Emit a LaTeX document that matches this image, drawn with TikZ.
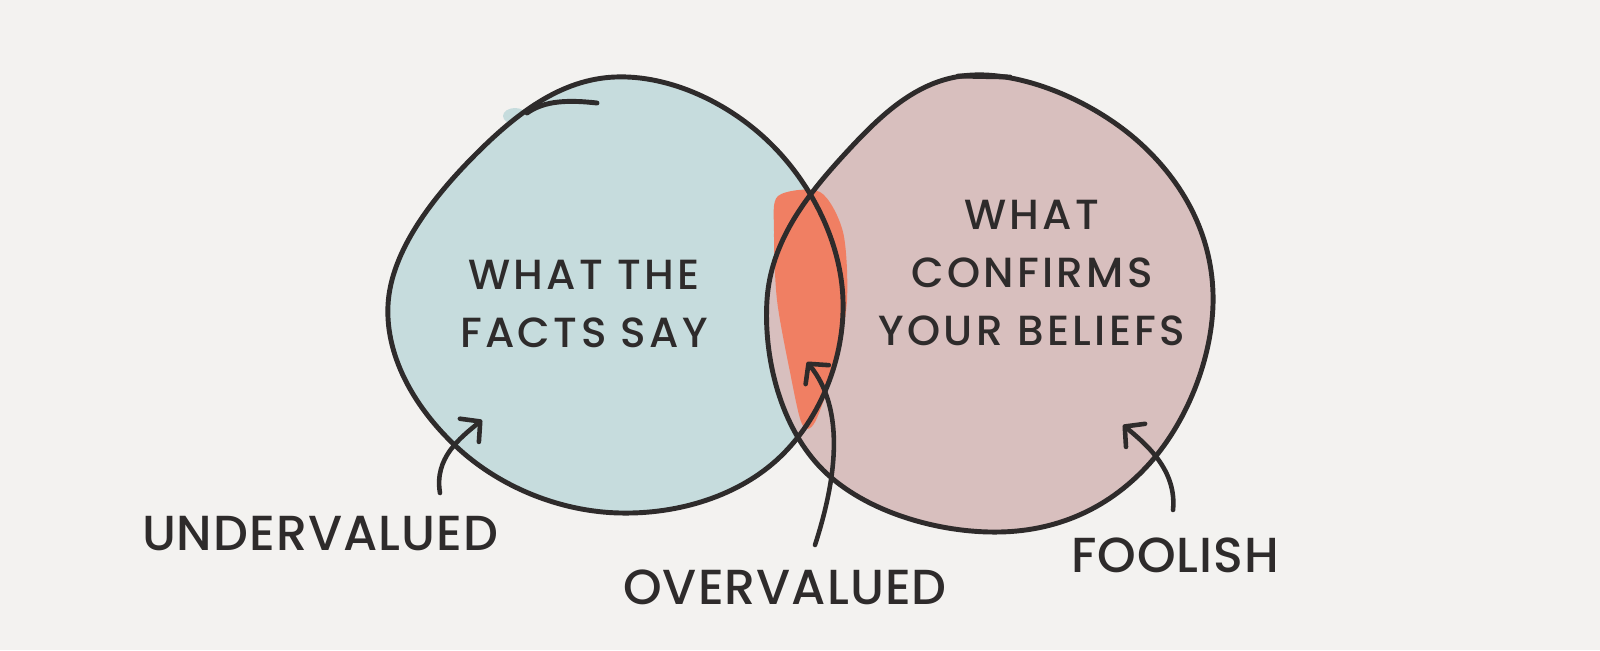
\documentclass[tikz,border=0pt]{standalone}
\usepackage{fontspec}
\setmainfont{Poppins}[UprightFont=* Medium, LetterSpace=8]
\usetikzlibrary{arrows.meta}
\definecolor{paper}{HTML}{F3F2F0}
\definecolor{ink}{HTML}{2E2B2B}
\definecolor{factblue}{HTML}{C6DCDD}
\definecolor{beliefpink}{HTML}{D8BFBE}
\definecolor{overorange}{HTML}{F07F63}
\tikzset{
  outline/.style={draw=ink, line width=2.8pt, line cap=round, line join=round},
  inlabel/.style={text=ink, align=center, font=\fontsize{24}{33}\selectfont},
  outlabel/.style={text=ink, font=\fontsize{28}{30}\selectfont\addfontfeatures{LetterSpace=2}},
  pointer/.style={draw=ink, line width=2.6pt, line cap=round, -{Straight Barb[length=2.8mm, width=6mm, line width=2.6pt, round]}}
}
\newcommand{\factsblob}{plot[smooth cycle, tension=0.66] coordinates {(615,77) (770,143) (843,300) (780,457) (620,513) (460,450) (388,305) (475,155)}}
\newcommand{\beliefsblob}{plot[smooth cycle, tension=0.66] coordinates {(973,75) (1140,143) (1213,293) (1150,463) (1000,532) (823,470) (767,300) (843,156)}}

\begin{document}
\begin{tikzpicture}[x=0.02cm, y=-0.02cm]
  \useasboundingbox[fill=paper] (0,0) rectangle (1600,650);

  % fills
  \fill[factblue] \factsblob;
  \fill[factblue] (515,116) ellipse (12 and 8);
  \fill[beliefpink] \beliefsblob;
  \fill[overorange] plot[smooth cycle] coordinates {(778,196) (820,192) (843,232) (847,300) (836,362) (815,422) (802,424) (790,372) (777,300) (774,232)};

  % outlines
  \draw[outline] \factsblob;
  \draw[outline] (527,113) .. controls (545,100) and (570,100) .. (597,103);
  \draw[outline] \beliefsblob;
  \draw[outline] (958,76) -- (1010,77);

  % texts
  \node[inlabel] (facts) at (584,304) {WHAT THE\\FACTS SAY};
  \node[inlabel] (beliefs) at (1032,273) {WHAT\\CONFIRMS\\YOUR BELIEFS};
  \node[outlabel] (under) at (320,534) {UNDERVALUED};
  \node[outlabel] (over) at (785,587) {OVERVALUED};
  \node[outlabel] (fool) at (1175,555) {FOOLISH};

  % pointers
  \coordinate (under tail) at (440,493);
  \coordinate (under tip) at (482,420);
  \coordinate (over tail) at (815,545);
  \coordinate (over tip) at (807,362);
  \coordinate (fool tail) at (1173,510);
  \coordinate (fool tip) at (1123,425);
  \draw[pointer] (under tail) .. controls (434,458) and (460,438) .. (under tip);
  \draw[pointer] (over tail) .. controls (836,480) and (846,410) .. (over tip);
  \draw[pointer] (fool tail) .. controls (1177,470) and (1146,444) .. (fool tip);
\end{tikzpicture}
\end{document}
